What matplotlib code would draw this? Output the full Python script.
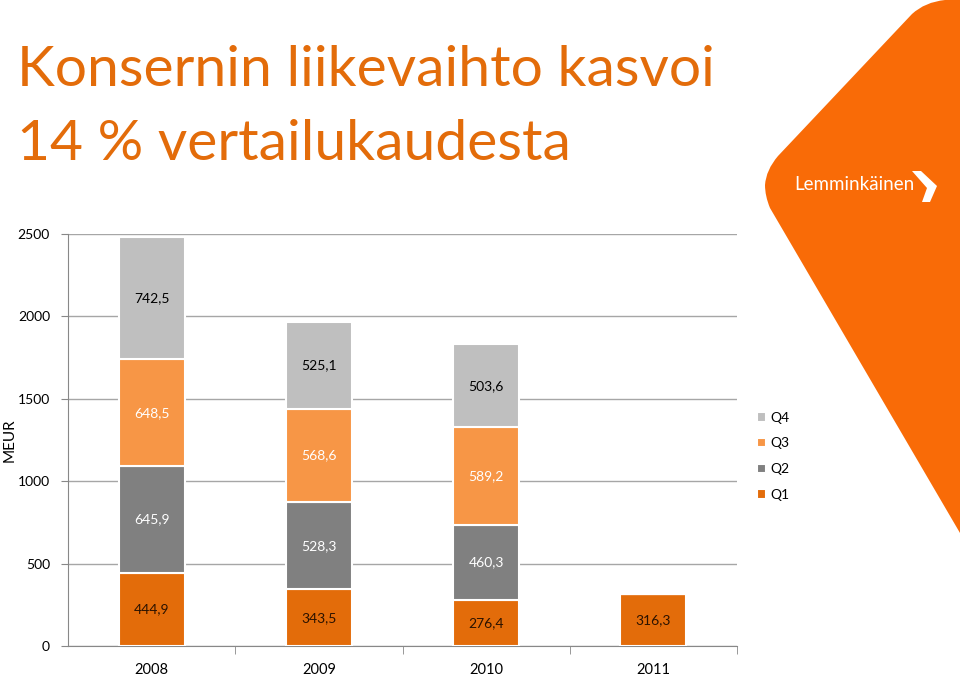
import matplotlib
matplotlib.use("Agg")
import matplotlib.pyplot as plt
import numpy as np
from matplotlib.path import Path
from matplotlib.patches import PathPatch

plt.rcParams["font.family"] = ["Lato", "DejaVu Sans"]

years = ["2008", "2009", "2010", "2011"]
q1 = [444.9, 343.5, 276.4, 316.3]
q2 = [645.9, 528.3, 460.3, 0]
q3 = [648.5, 568.6, 589.2, 0]
q4 = [742.5, 525.1, 503.6, 0]
series = [("Q1", q1), ("Q2", q2), ("Q3", q3), ("Q4", q4)]
colors = {"Q1": "#E36C0A", "Q2": "#808080", "Q3": "#F79646", "Q4": "#BFBFBF"}
label_colors = {"Q1": "#2B1200", "Q2": "white", "Q3": "white", "Q4": "black"}
yticks = [0, 500, 1000, 1500, 2000, 2500]

W, H = 960, 676
fig = plt.figure(figsize=(W / 100, H / 100), dpi=100)


def px(x, y):
    # figure pixel coords (y from top) -> figure fraction
    return (x / W, 1 - y / H)


# logo background shape
verts = [px(960, 0), px(945, 0), px(925, 2), px(912, 14),
         px(778, 156), px(766, 170), px(765, 185),
         px(765, 196), px(770, 208),
         px(960, 533), px(960, 0)]
codes = [Path.MOVETO, Path.LINETO, Path.CURVE3, Path.CURVE3,
         Path.LINETO, Path.CURVE3, Path.CURVE3,
         Path.CURVE3, Path.CURVE3,
         Path.LINETO, Path.CLOSEPOLY]
fig.patches.append(PathPatch(Path(verts, codes), transform=fig.transFigure,
                             facecolor="#F96B07", edgecolor="none", zorder=0))
fig.text(794 / W, 1 - 185 / H, "Lemminkäinen", color="white", fontsize=13.5,
         va="center", ha="left", family="Lato")
icon = [px(912, 171), px(921, 171), px(937, 186), px(930, 202), px(922, 202), px(927, 188)]
fig.patches.append(plt.Polygon(icon, closed=True, transform=fig.transFigure,
                               facecolor="white", edgecolor="none", zorder=1))

# title
fig.text(17 / W, 1 - 70 / H, "Konsernin liikevaihto kasvoi", color="#E36C0A",
         fontsize=41, va="center", ha="left")
fig.text(17 / W, 1 - 145 / H, "14 % vertailukaudesta", color="#E36C0A",
         fontsize=41, va="center", ha="left")

ax = fig.add_axes([68 / W, (H - 646) / H, (737 - 68) / W, (646 - 234) / H])
x = np.arange(len(years))
bottom = np.zeros(len(years))
handles = {}
for name, vals in series:
    vals = np.array(vals)
    bars = ax.bar(x, vals, width=0.395, bottom=bottom, color=colors[name],
                  edgecolor="white", linewidth=1.5, zorder=3, label=name)
    handles[name] = bars
    for xi, b, v in zip(x, bottom, vals):
        if v > 0:
            ax.text(xi, b + v / 2, f"{v:.1f}".replace(".", ","), ha="center",
                    va="center", fontsize=10, color=label_colors[name], zorder=4)
    bottom = bottom + vals

ax.set_xlim(-0.5, len(years) - 0.5)
ax.set_ylim(0, 2500)
ax.set_yticks(yticks)
ax.set_yticklabels([str(t) for t in yticks], fontsize=10)
ax.set_xticks(x)
ax.set_xticklabels(years, fontsize=10.5)
ax.set_xticks(np.arange(len(years)) + 0.5, minor=True)
ax.tick_params(axis="x", which="major", length=0, pad=12)
ax.tick_params(axis="x", which="minor", length=6, color="#888888")
ax.tick_params(axis="y", length=5, color="#888888", pad=8)
ax.yaxis.grid(True, color="#A6A6A6", linewidth=1, zorder=0)
ax.set_axisbelow(True)
for s in ["top", "right"]:
    ax.spines[s].set_visible(False)
for s in ["left", "bottom"]:
    ax.spines[s].set_color("#888888")
ax.set_ylabel("MEUR", fontsize=11)
ax.yaxis.set_label_coords(-0.077, 0.5)

order = ["Q4", "Q3", "Q2", "Q1"]
fig.legend([handles[n] for n in order], order, loc="upper left",
           bbox_to_anchor=(744 / W, 1 - 399 / H), frameon=False, fontsize=10,
           handlelength=0.7, handleheight=0.7, handletextpad=0.3, labelspacing=1.0)

fig.savefig("out.png", dpi=100)
